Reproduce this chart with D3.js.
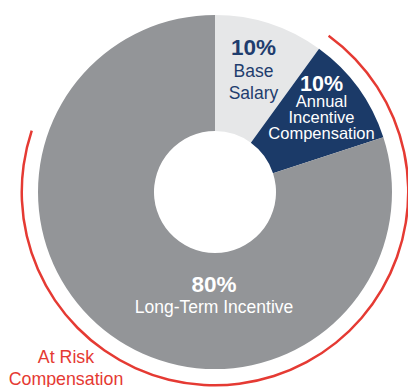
<!DOCTYPE html>
<html>
<head>
<meta charset="utf-8">
<script src="https://cdn.jsdelivr.net/npm/d3@7"></script>
<style>
html,body{margin:0;padding:0;background:#fff;}
svg{display:block;}
text{font-family:"Liberation Sans",Arial,Helvetica,sans-serif;}
</style>
</head>
<body>
<svg id="chart" width="408" height="387"></svg>
<script>
const categories = ["Base Salary", "Annual Incentive Compensation", "Long-Term Incentive"];
const values = [10, 10, 80];
const pctLabels = ["10%", "10%", "80%"];
const nameLines = [["Base", "Salary"], ["Annual", "Incentive", "Compensation"], ["Long-Term Incentive"]];
const riskLabel = ["At Risk", "Compensation"];

const colors = ["#e6e7e8", "#1b3a68", "#939598"];
const textColors = ["#1f3d6e", "#ffffff", "#ffffff"];

const svg = d3.select("#chart");
const cx = 215, cy = 192;
const g = svg.append("g").attr("transform", `translate(${cx},${cy})`);

const pie = d3.pie().sort(null).value(d => d);
const arcs = pie(values);
const arc = d3.arc().innerRadius(61).outerRadius(177);

g.selectAll("path.slice").data(arcs).enter().append("path")
  .attr("class", "slice")
  .attr("d", arc)
  .attr("fill", (d, i) => colors[i]);

// At-risk red arc
const deg = Math.PI / 180;
const redArc = d3.arc().innerRadius(192).outerRadius(194.5)
  .startAngle(36 * deg).endAngle(288.5 * deg);
g.append("path").attr("d", redArc()).attr("fill", "#e53a33");

// Labels
const labelPos = [
  {x: 253.5 - cx, y: 55 - cy, pctSize: 22.5, nameSize: 17.5, lh: 21.5, gap: 22},
  {x: 321.5 - cx, y: 91 - cy, pctSize: 21.5, nameSize: 16.5, lh: 16, gap: 16},
  {x: 214 - cx, y: 292 - cy, pctSize: 22.5, nameSize: 17.5, lh: 21, gap: 21}
];
arcs.forEach((d, i) => {
  const p = labelPos[i];
  g.append("text")
    .attr("x", p.x).attr("y", p.y)
    .attr("text-anchor", "middle")
    .attr("font-weight", "bold")
    .attr("font-size", p.pctSize)
    .attr("fill", textColors[i])
    .text(pctLabels[i]);
  nameLines[i].forEach((line, j) => {
    g.append("text")
      .attr("x", p.x).attr("y", p.y + p.gap + j * p.lh)
      .attr("text-anchor", "middle")
      .attr("font-size", p.nameSize)
      .attr("fill", textColors[i])
      .text(line);
  });
});

riskLabel.forEach((line, j) => {
  svg.append("text")
    .attr("x", 66).attr("y", 363 + j * 22)
    .attr("text-anchor", "middle")
    .attr("font-size", 17.8)
    .attr("fill", "#e53a33")
    .text(line);
});
</script>
</body>
</html>
